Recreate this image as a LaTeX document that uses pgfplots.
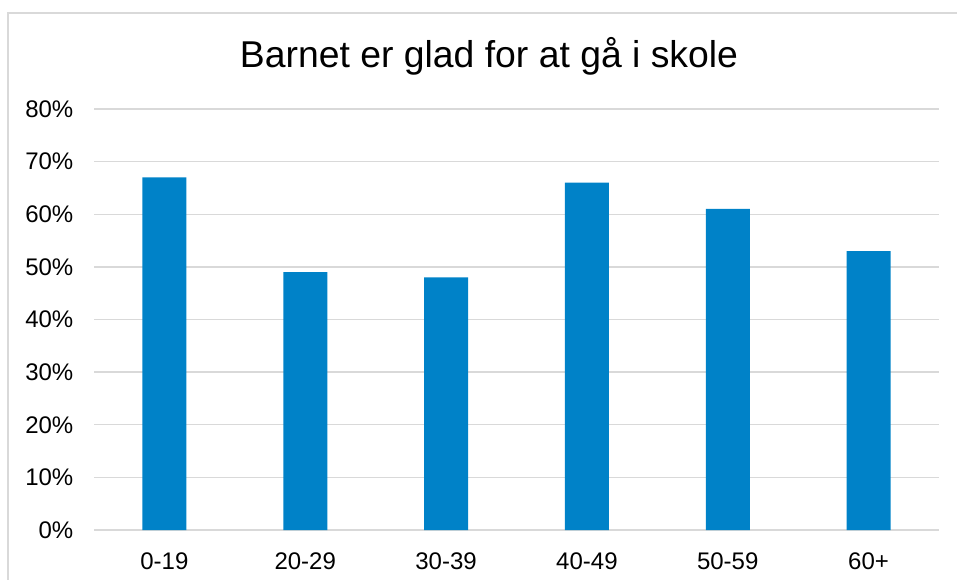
\documentclass[border=0pt]{standalone}
\usepackage{pgfplots}
\pgfplotsset{compat=1.18}
\usepackage{fontspec}
\setmainfont{Liberation Sans}
\definecolor{barblue}{RGB}{0,130,200}
\definecolor{gridgray}{RGB}{217,217,217}
\begin{document}
\begin{tikzpicture}[x=0.75pt,y=0.75pt]
\useasboundingbox (0,0) rectangle (957,-580);
\draw[gridgray, line width=1.1pt] (8,-580) -- (8,-13) -- (957,-13);
\node[font=\fontsize{28}{33}\selectfont, inner sep=0pt] at (489,-56) {Barnet er glad for at gå i skole};
\begin{axis}[
  at={(70.5pt,-397.5pt)}, anchor=south west,
  scale only axis, width=633.75pt, height=315.75pt,
  xmin=-0.5, xmax=5.5, ymin=0, ymax=80,
  ytick={0,10,...,80},
  xtick={0,1,2,3,4,5},
  xticklabels={0-19,20-29,30-39,40-49,50-59,60+},
  yticklabel={\pgfmathprintnumber[assume math mode=true]{\tick}\%},
  ymajorgrids, grid style={gridgray, line width=1.1pt},
  axis line style={draw=none},
  major tick style={draw=none},
  tick label style={font=\fontsize{18}{21}\selectfont},
  yticklabel style={xshift=-12pt},
  xticklabel style={yshift=-9pt},
  ybar, bar width=33pt,
]
\addplot[fill=barblue, draw=none] coordinates {(0,67) (1,49) (2,48) (3,66) (4,61) (5,53)};
\end{axis}
\end{tikzpicture}
\end{document}
